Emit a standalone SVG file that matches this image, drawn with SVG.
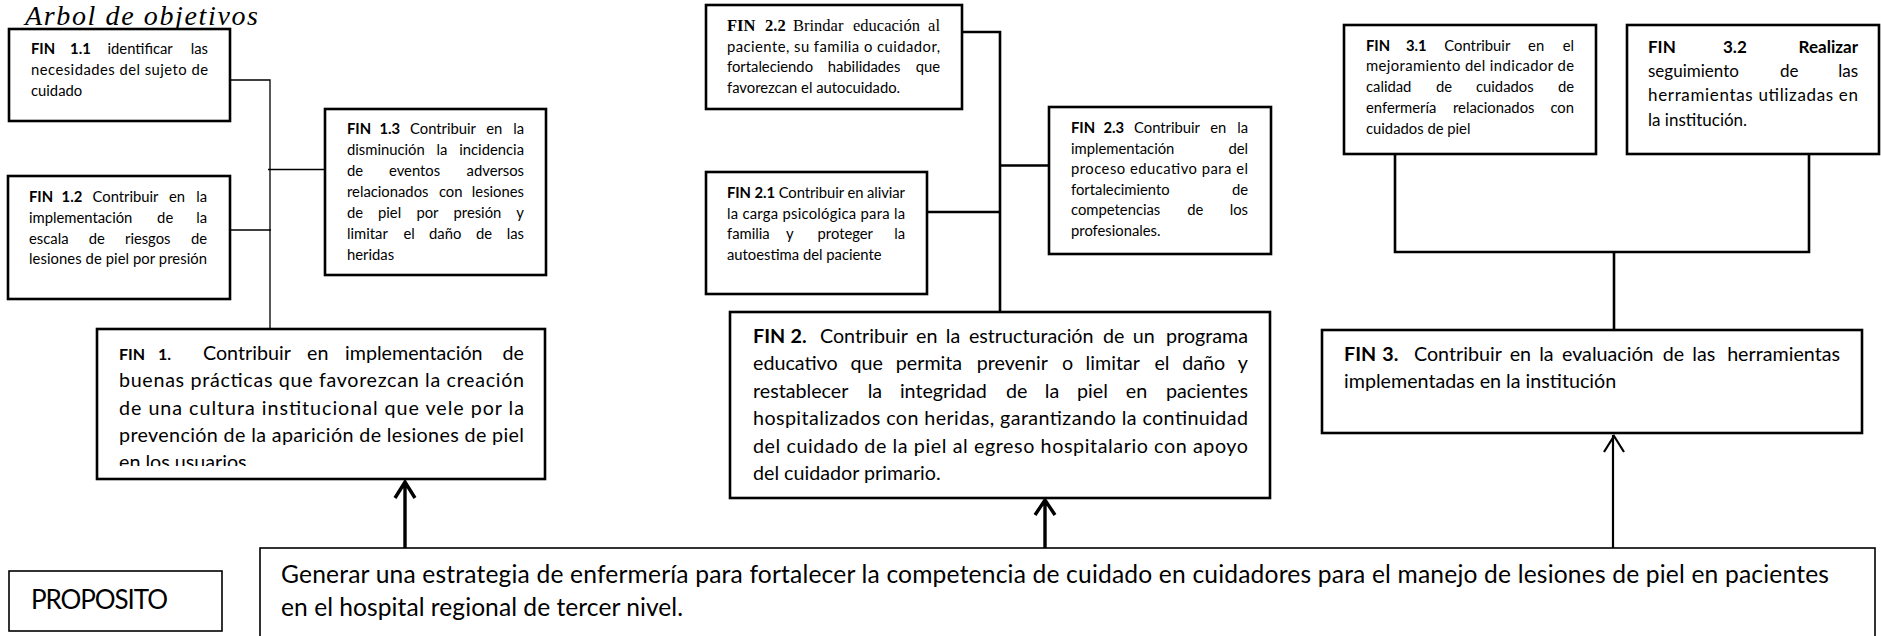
<svg xmlns="http://www.w3.org/2000/svg" width="1881" height="636" viewBox="0 0 1881 636">
<style>
.s{font-family:Lato,"Liberation Sans",sans-serif;font-size:14.8px;fill:#000}
.m{font-family:Lato,"Liberation Sans",sans-serif;font-size:17px;fill:#000}
.l{font-family:Lato,"Liberation Sans",sans-serif;font-size:19.7px;fill:#000}
.xl{font-family:Lato,"Liberation Sans",sans-serif;font-size:24.6px;fill:#000}
.sf{font-family:"Liberation Serif","Times New Roman",serif;font-size:16.5px;fill:#000}
.b{font-weight:bold}
.fb{font-weight:bold;font-size:16px}
.box{fill:#fff;stroke:#000;stroke-width:2.6}
.pbox{fill:#fff;stroke:#000;stroke-width:1.6}
.thin{fill:none;stroke:#000;stroke-width:1.3}
.conn{fill:none;stroke:#000;stroke-width:2.6}
.arr{fill:none;stroke:#000;stroke-width:3.4}
.arr2{fill:none;stroke:#000;stroke-width:2.2}
.title{font-family:"Liberation Serif","Times New Roman",serif;font-style:italic;font-size:28px;fill:#000}
</style>
<defs>
<clipPath id="clip1"><rect x="97" y="329" width="448" height="137"/></clipPath>
</defs>
<rect width="1881" height="636" fill="#fff"/>

<g id="title"><text class="title" x="25" y="25" textLength="233" lengthAdjust="spacing">Arbol de objetivos</text></g>

<g id="connectors">
<path class="thin" d="M230 80H270V329M268 169.5H325M230 230H271"/>
<path class="conn" d="M962 32H1000V312M1000 165.5H1049M927 212H1000"/>
<path class="conn" d="M1395 154V252H1809V154M1614 252V330"/>
<path class="arr" d="M405 548V482M395 498L405 482L415 498"/>
<path class="arr" d="M1045 548V500M1035 515L1045 500L1055 515"/>
<path class="arr2" d="M1613 548V435M1604 452L1614 436L1624 452"/>
</g>

<g id="fin1-1">
<rect class="box" x="9" y="29" width="221" height="92"/>
<text class="s" y="54"><tspan x="31" class="b">FIN </tspan><tspan x="70.1" class="b">1.1 </tspan><tspan x="107.5">identificar </tspan><tspan x="208" text-anchor="end">las</tspan></text>
<text class="s" x="31" y="75" textLength="177" lengthAdjust="spacing">necesidades del sujeto de</text>
<text class="s" x="31" y="96">cuidado</text>
</g>

<g id="fin1-2">
<rect class="box" x="8" y="176" width="222" height="123"/>
<text class="s" y="202"><tspan x="29" class="b">FIN </tspan><tspan x="61.6" class="b">1.2 </tspan><tspan x="92.5">Contribuir </tspan><tspan x="168.9">en </tspan><tspan x="207" text-anchor="end">la</tspan></text>
<text class="s" y="223"><tspan x="29">implementación </tspan><tspan x="157.1">de </tspan><tspan x="207" text-anchor="end">la</tspan></text>
<text class="s" y="244"><tspan x="29">escala </tspan><tspan x="88.8">de </tspan><tspan x="125">riesgos </tspan><tspan x="207" text-anchor="end">de</tspan></text>
<text class="s" x="29" y="264" textLength="178" lengthAdjust="spacing">lesiones de piel por presión</text>
</g>

<g id="fin1-3">
<rect class="box" x="325" y="109" width="221" height="166"/>
<text class="s" y="134"><tspan x="347" class="b">FIN </tspan><tspan x="379.4" class="b">1.3 </tspan><tspan x="410">Contribuir </tspan><tspan x="486.2">en </tspan><tspan x="524" text-anchor="end">la</tspan></text>
<text class="s" y="155"><tspan x="347">disminución </tspan><tspan x="436.6">la </tspan><tspan x="524" text-anchor="end">incidencia</tspan></text>
<text class="s" y="176"><tspan x="347">de </tspan><tspan x="389">eventos </tspan><tspan x="524" text-anchor="end">adversos</tspan></text>
<text class="s" y="197"><tspan x="347">relacionados </tspan><tspan x="438.9">con </tspan><tspan x="524" text-anchor="end">lesiones</tspan></text>
<text class="s" y="218"><tspan x="347">de </tspan><tspan x="378">piel </tspan><tspan x="416.4">por </tspan><tspan x="453.5">presión </tspan><tspan x="524" text-anchor="end">y</tspan></text>
<text class="s" y="239"><tspan x="347">limitar </tspan><tspan x="403.4">el </tspan><tspan x="429">daño </tspan><tspan x="475.9">de </tspan><tspan x="524" text-anchor="end">las</tspan></text>
<text class="s" x="347" y="260">heridas</text>
</g>

<g id="fin1">
<rect class="box" x="97" y="329" width="448" height="150"/>
<text class="l" y="360"><tspan x="119" class="fb">FIN </tspan><tspan x="158" class="fb">1. </tspan><tspan x="203">Contribuir </tspan><tspan x="307">en </tspan><tspan x="345">implementación </tspan><tspan x="524" text-anchor="end">de</tspan></text>
<text class="l" x="119" y="387" textLength="405" lengthAdjust="spacing">buenas prácticas que favorezcan la creación</text>
<text class="l" x="119" y="414.5" textLength="405" lengthAdjust="spacing">de una cultura institucional que vele por la</text>
<text class="l" x="119" y="441.7" textLength="405" lengthAdjust="spacing">prevención de la aparición de lesiones de piel</text>
<text class="l" x="119" y="469" clip-path="url(#clip1)">en los usuarios</text>
</g>

<g id="fin2-2">
<rect class="box" x="706" y="5" width="256" height="104"/>
<text class="sf" y="31"><tspan x="727" class="b">FIN </tspan><tspan x="765" class="b">2.2 </tspan><tspan x="793">Brindar </tspan><tspan x="853">educación </tspan><tspan x="940" text-anchor="end">al</tspan></text>
<text class="s" x="727" y="52" textLength="213" lengthAdjust="spacing">paciente, su familia o cuidador,</text>
<text class="s" y="72"><tspan x="727">fortaleciendo </tspan><tspan x="827.7">habilidades </tspan><tspan x="940" text-anchor="end">que</tspan></text>
<text class="s" x="727" y="92.5">favorezcan el autocuidado.</text>
</g>

<g id="fin2-1">
<rect class="box" x="706" y="172" width="221" height="122"/>
<text class="s" x="727" y="198" textLength="178" lengthAdjust="spacing"><tspan class="b">FIN 2.1</tspan> Contribuir en aliviar</text>
<text class="s" x="727" y="218.5" textLength="178" lengthAdjust="spacing">la carga psicológica para la</text>
<text class="s" y="239"><tspan x="727">familia </tspan><tspan x="786">y </tspan><tspan x="817.5">proteger </tspan><tspan x="905" text-anchor="end">la</tspan></text>
<text class="s" x="727" y="259.5">autoestima del paciente</text>
</g>

<g id="fin2-3">
<rect class="box" x="1049" y="107" width="222" height="147"/>
<text class="s" y="133"><tspan x="1071" class="b">FIN </tspan><tspan x="1103.4" class="b">2.3 </tspan><tspan x="1134">Contribuir </tspan><tspan x="1210.2">en </tspan><tspan x="1248" text-anchor="end">la</tspan></text>
<text class="s" y="153.5"><tspan x="1071">implementación </tspan><tspan x="1248" text-anchor="end">del</tspan></text>
<text class="s" x="1071" y="174" textLength="177" lengthAdjust="spacing">proceso educativo para el</text>
<text class="s" y="194.5"><tspan x="1071">fortalecimiento </tspan><tspan x="1248" text-anchor="end">de</tspan></text>
<text class="s" y="215"><tspan x="1071">competencias </tspan><tspan x="1187.3">de </tspan><tspan x="1248" text-anchor="end">los</tspan></text>
<text class="s" x="1071" y="236">profesionales.</text>
</g>

<g id="fin2">
<rect class="box" x="730" y="312" width="540" height="186"/>
<text class="l" y="343"><tspan x="753" class="b">FIN </tspan><tspan x="790.5" class="b">2. </tspan><tspan x="820">Contribuir </tspan><tspan x="916">en </tspan><tspan x="945.8">la </tspan><tspan x="968.9">estructuración </tspan><tspan x="1103">de </tspan><tspan x="1132.8">un </tspan><tspan x="1248" text-anchor="end">programa</tspan></text>
<text class="l" y="370"><tspan x="753">educativo </tspan><tspan x="850.5">que </tspan><tspan x="895.8">permita </tspan><tspan x="976.7">prevenir </tspan><tspan x="1062.1">o </tspan><tspan x="1085.6">limitar </tspan><tspan x="1154.4">el </tspan><tspan x="1182.2">daño </tspan><tspan x="1248" text-anchor="end">y</tspan></text>
<text class="l" y="397.5"><tspan x="753">restablecer </tspan><tspan x="867.7">la </tspan><tspan x="899.9">integridad </tspan><tspan x="1005.9">de </tspan><tspan x="1044.8">la </tspan><tspan x="1077">piel </tspan><tspan x="1125.8">en </tspan><tspan x="1248" text-anchor="end">pacientes</tspan></text>
<text class="l" x="753" y="425" textLength="495" lengthAdjust="spacing">hospitalizados con heridas, garantizando la continuidad</text>
<text class="l" x="753" y="452.5" textLength="495" lengthAdjust="spacing">del cuidado de la piel al egreso hospitalario con apoyo</text>
<text class="l" x="753" y="480">del cuidador primario.</text>
</g>

<g id="fin3-1">
<rect class="box" x="1344" y="25" width="252" height="129"/>
<text class="s" y="50.5"><tspan x="1366" class="b">FIN </tspan><tspan x="1406" class="b">3.1 </tspan><tspan x="1444.3">Contribuir </tspan><tspan x="1528.1">en </tspan><tspan x="1574" text-anchor="end">el</tspan></text>
<text class="s" x="1366" y="71" textLength="208" lengthAdjust="spacing">mejoramiento del indicador de</text>
<text class="s" y="92"><tspan x="1366">calidad </tspan><tspan x="1435.9">de </tspan><tspan x="1476">cuidados </tspan><tspan x="1574" text-anchor="end">de</tspan></text>
<text class="s" y="112.7"><tspan x="1366">enfermería </tspan><tspan x="1453">relacionados </tspan><tspan x="1574" text-anchor="end">con</tspan></text>
<text class="s" x="1366" y="133.5">cuidados de piel</text>
</g>

<g id="fin3-2">
<rect class="box" x="1627" y="25" width="252" height="129"/>
<text class="m b" y="53"><tspan x="1648">FIN </tspan><tspan x="1723">3.2 </tspan><tspan x="1858" text-anchor="end">Realizar</tspan></text>
<text class="m" y="76.5"><tspan x="1648">seguimiento </tspan><tspan x="1780">de </tspan><tspan x="1858" text-anchor="end">las</tspan></text>
<text class="m" x="1648" y="101" textLength="210" lengthAdjust="spacing">herramientas utilizadas en</text>
<text class="m" x="1648" y="125.5">la institución.</text>
</g>

<g id="fin3">
<rect class="box" x="1322" y="330" width="540" height="103"/>
<text class="l" y="361"><tspan x="1344" class="b">FIN </tspan><tspan x="1382.3" class="b">3. </tspan><tspan x="1414">Contribuir </tspan><tspan x="1509.7">en </tspan><tspan x="1539.2">la </tspan><tspan x="1562">evaluación </tspan><tspan x="1662.8">de </tspan><tspan x="1692.3">las </tspan><tspan x="1840" text-anchor="end">herramientas</tspan></text>
<text class="l" x="1344" y="388">implementadas en la institución</text>
</g>

<g id="proposito-label">
<rect class="pbox" x="9" y="571" width="213" height="60"/>
<text class="xl" x="31" y="609" textLength="137" lengthAdjust="spacing" style="font-size:26px">PROPOSITO</text>
</g>

<g id="proposito">
<rect class="pbox" x="260" y="548" width="1615" height="100"/>
<text class="xl" x="281" y="583" textLength="1548" lengthAdjust="spacing">Generar una estrategia de enfermería para fortalecer la competencia de cuidado en cuidadores para el manejo de lesiones de piel en pacientes</text>
<text class="xl" x="281" y="616" textLength="402" lengthAdjust="spacing">en el hospital regional de tercer nivel.</text>
</g>
</svg>
